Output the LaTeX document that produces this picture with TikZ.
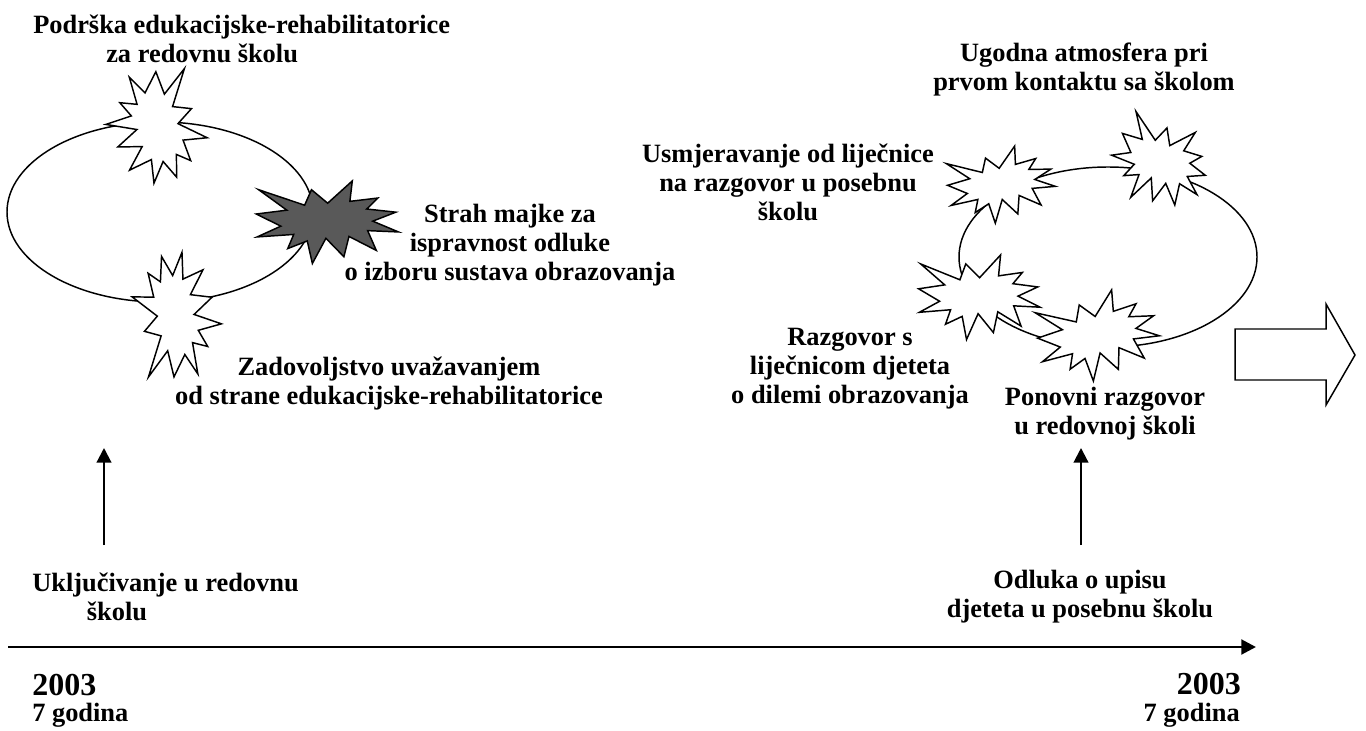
\documentclass[tikz,border=0pt]{standalone}
\usepackage{fontspec}
\setmainfont{Liberation Serif}
\usetikzlibrary{arrows.meta}
\definecolor{darkburst}{HTML}{595959}
\newcommand{\boom}[7]{% name, cx, cy, w, h, rotation, fill
  \coordinate (#1) at (#2,#3);
  \begin{scope}[shift={(#2,#3)},rotate=#6,xscale=#4,yscale=#5]
    \filldraw[starline,fill=#7] plot coordinates {
      (0.0047,-0.2266) (-0.1084,-0.3889) (-0.1566,-0.2025) (-0.4780,-0.3889)
      (-0.2809,-0.1425) (-0.4951,-0.0964) (-0.3228,0.0500) (-0.4887,0.1800)
      (-0.2328,0.1500) (-0.2746,0.3203) (-0.1380,0.2282) (-0.1023,0.5)
      (-0.0075,0.1962) (0.1180,0.4185) (0.1539,0.1741) (0.3448,0.3424)
      (0.2842,0.1039) (0.5,0.1200) (0.3199,-0.0102) (0.4814,-0.1184)
      (0.2781,-0.1566) (0.3556,-0.2889) (0.1600,-0.2487) (0.1770,-0.4951)} -- cycle;
  \end{scope}}
\tikzset{
  lbl/.style={font=\bfseries\fontsize{19.8pt}{21.75pt}\selectfont, inner sep=0pt, align=center},
  yr/.style={font=\bfseries\fontsize{24pt}{26pt}\selectfont, inner sep=0pt},
  starline/.style={draw=black, line width=1.1pt, line join=miter},
  loopline/.style={draw=black, line width=1.1pt},
  upar/.style={line width=1.6pt, -{Triangle[length=11pt,width=11pt]}},
  axisline/.style={line width=2.2pt, -{Triangle[length=11pt,width=11pt]}},
  blockarrow/.style={draw=black, fill=white, line width=1.1pt, line join=miter}
}
\begin{document}
\begin{tikzpicture}[x=0.75pt,y=-0.75pt]
\useasboundingbox (0,0) rectangle (1366,731);
\fill[white] (0,0) rectangle (1366,731);

% cycles
\draw[loopline] (160,212) ellipse (153 and 90);
\draw[loopline] (1108,257) ellipse (149 and 90);

% left bursts
\boom{bA}{156}{127}{110}{98}{-80}{white}
\boom{bDark}{327}{222}{143}{83}{0}{darkburst}
\boom{bC}{177}{315}{124}{87}{95}{white}

% right bursts
\boom{bS1}{1001}{185}{107}{74}{8}{white}
\boom{bS2}{1160}{163}{95}{88}{-28}{white}
\boom{bS3}{979}{297}{122}{85}{0}{white}
\boom{bS4}{1098}{336}{121}{87}{10}{white}

% block arrow
\draw[blockarrow] (1235,329) -- (1326,329) -- (1326,304) -- (1355,355)
  -- (1326,405) -- (1326,380) -- (1235,380) -- cycle;

% labels around left cycle
\node[lbl, align=left, anchor=west] (podrska) at (33,39)
  {Podrška edukacijske-rehabilitatorice\\\hspace*{54.75pt}za redovnu školu};
\node[lbl] (strah) at (510,245)
  {Strah majke za\\ispravnost odluke\\o izboru sustava obrazovanja};
\node[lbl] (zadov) at (389,383)
  {Zadovoljstvo uvažavanjem\\od strane edukacijske-rehabilitatorice};

% labels around right cycle
\node[lbl] (ugodna) at (1084,70)
  {Ugodna atmosfera pri\\prvom kontaktu sa školom};
\node[lbl] (usmj) at (788,182)
  {Usmjeravanje od liječnice\\na razgovor u posebnu\\školu};
\node[lbl] (razg) at (850,369)
  {Razgovor s\\liječnicom djeteta\\o dilemi obrazovanja};
\node[lbl] (ponovni) at (1105,414)
  {Ponovni razgovor\\u redovnoj školi};

% events on the time line
\node[lbl, align=left, anchor=west] (ukljuc) at (32,597)
  {Uključivanje u redovnu\\\hspace*{41pt}školu};
\node[lbl] (odluka) at (1080,597)
  {Odluka o upisu\\djeteta u posebnu školu};

% years
\node[yr, anchor=west] (y1) at (32,685) {2003};
\node[lbl, anchor=west] (g1) at (32,715) {7 godina};
\node[yr, anchor=east] (y2) at (1241,684) {2003};
\node[lbl, anchor=east] (g2) at (1240,715) {7 godina};

% arrows
\coordinate (a1s) at (104,545);
\coordinate (a1e) at (104,448);
\coordinate (a2s) at (1081,545);
\coordinate (a2e) at (1081,448);
\draw[upar] (a1s) -- (a1e);
\draw[upar] (a2s) -- (a2e);

\coordinate (tl0) at (8,647);
\coordinate (tl1) at (1256,647);
\draw[axisline] (tl0) -- (tl1);
\end{tikzpicture}
\end{document}
